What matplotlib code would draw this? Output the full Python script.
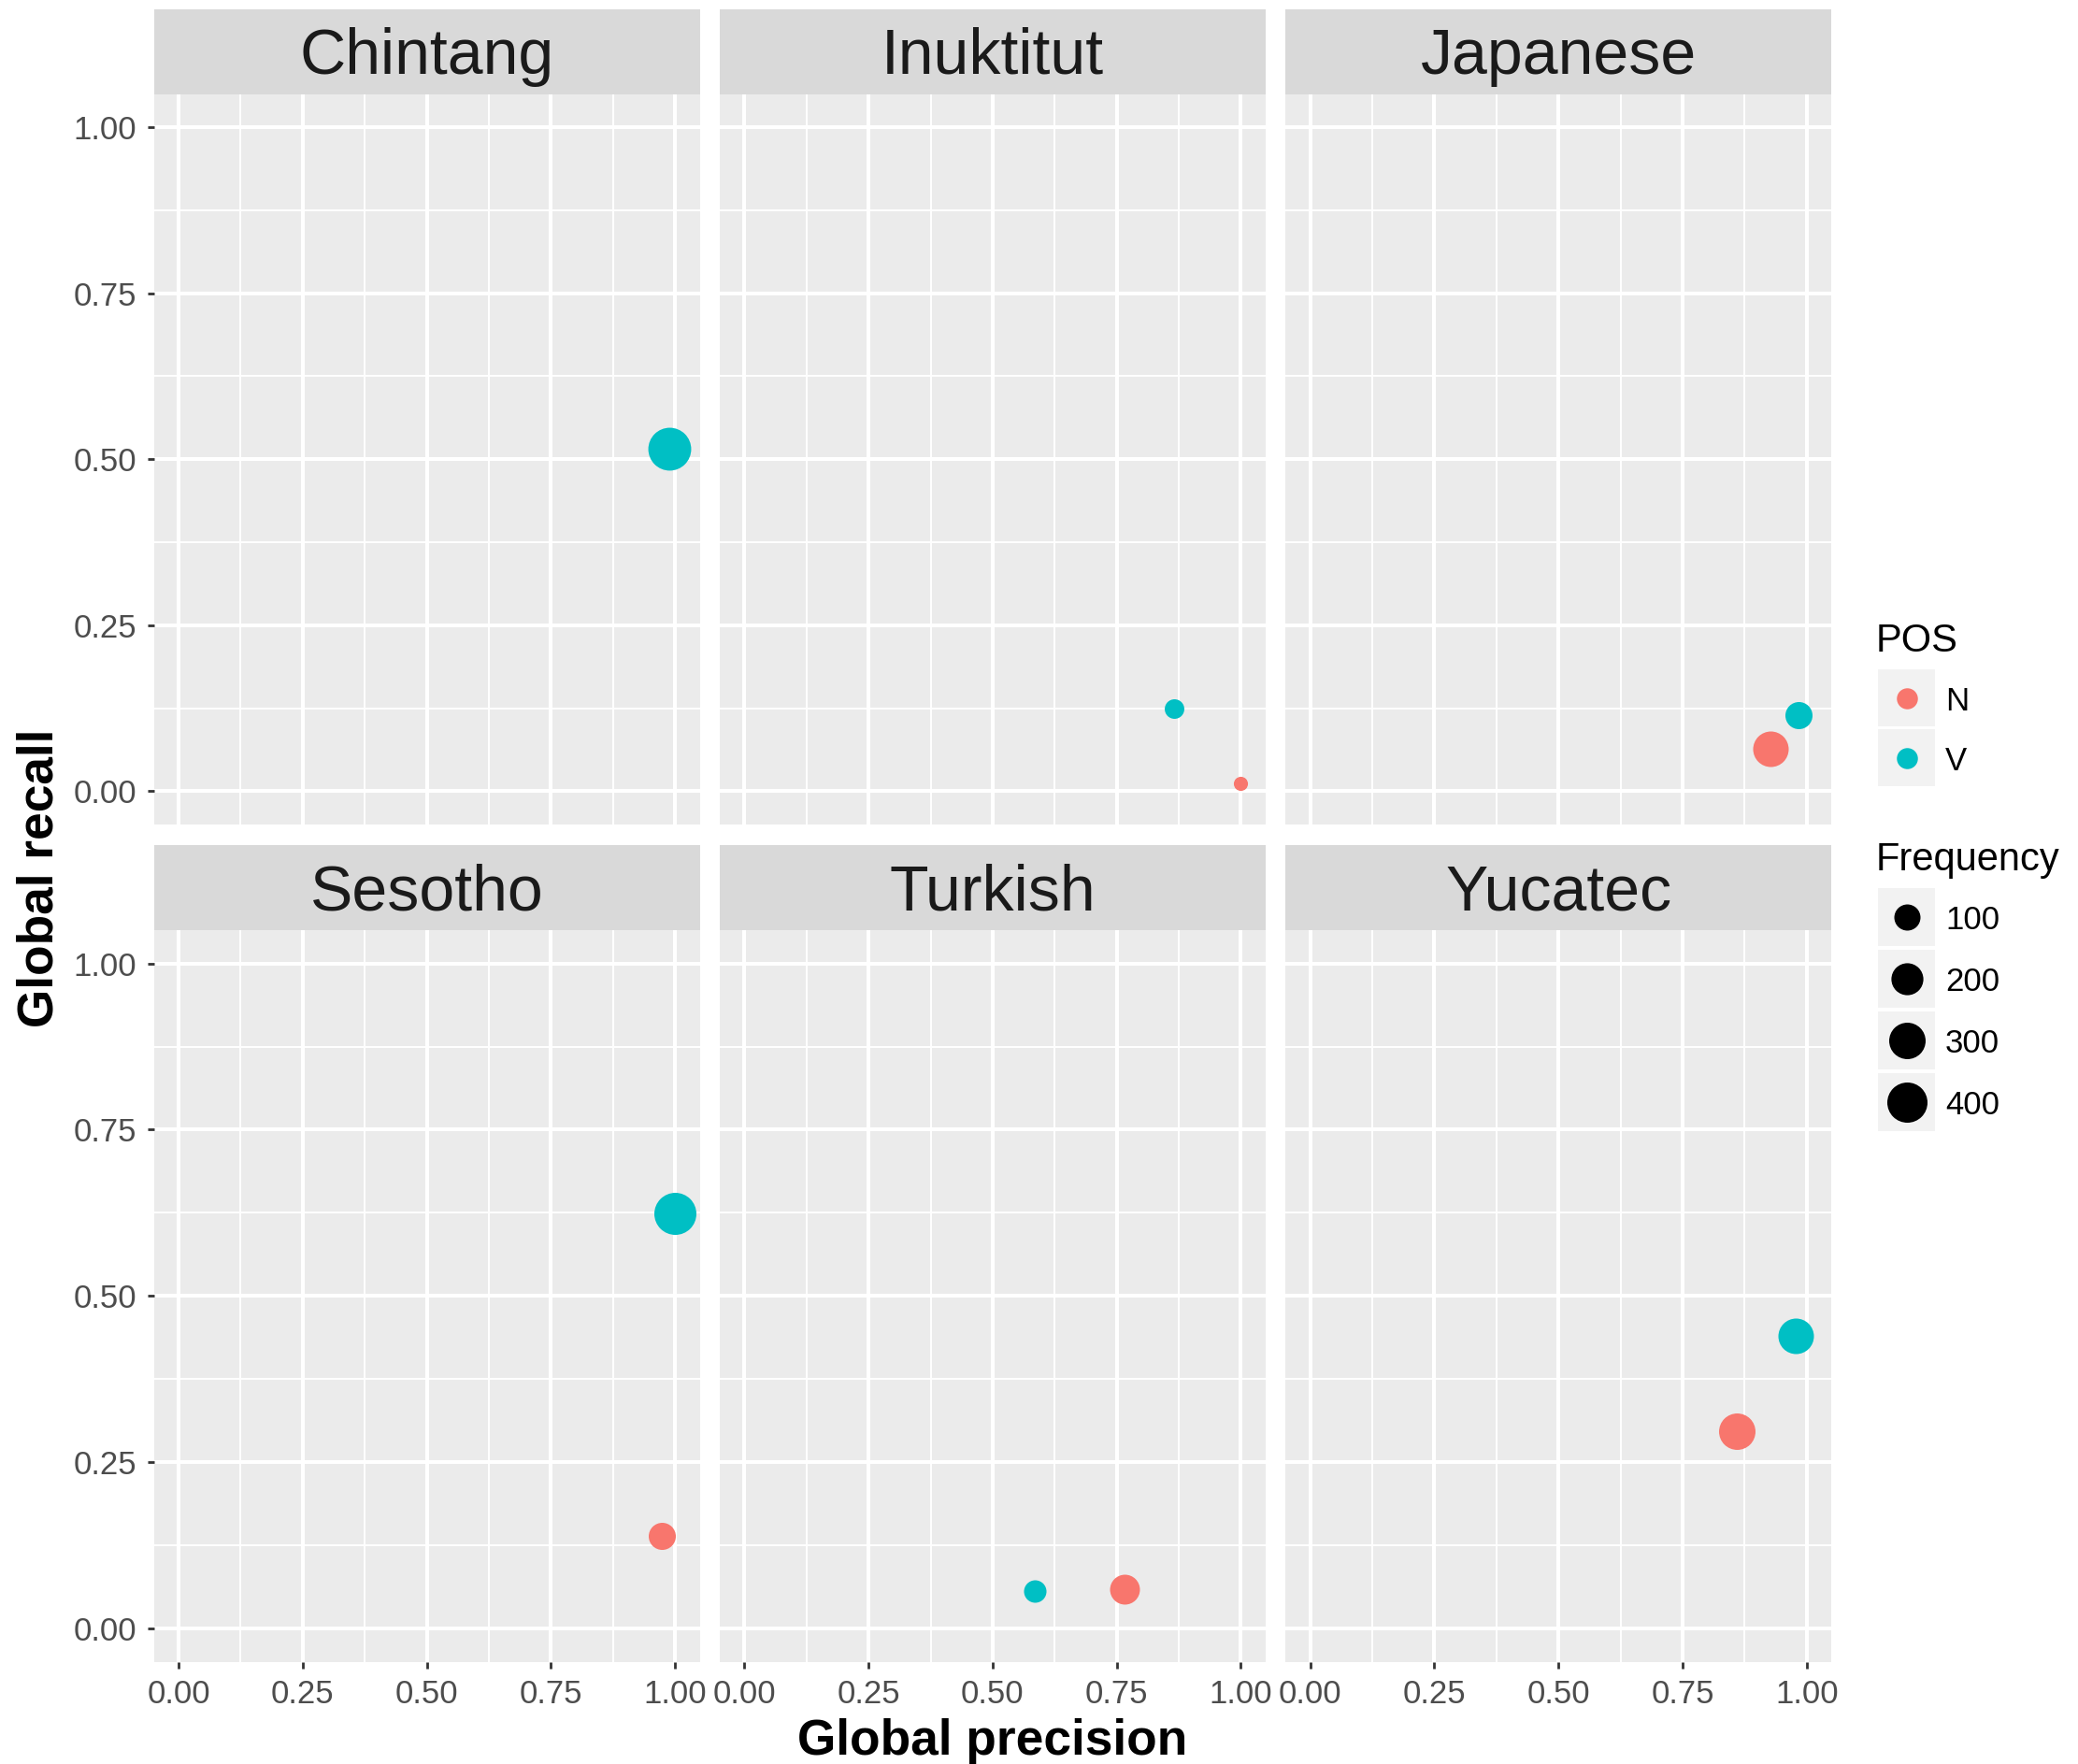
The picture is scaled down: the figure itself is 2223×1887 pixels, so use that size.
import matplotlib
matplotlib.use("Agg")
import matplotlib.pyplot as plt
import numpy as np

plt.rcParams['font.family'] = ['Liberation Sans', 'DejaVu Sans']

# data
languages = ["Chintang", "Inuktitut", "Japanese", "Sesotho", "Turkish", "Yucatec"]
pos_levels = ["N", "V"]
pos_colors = {"N": "#F8766D", "V": "#00BFC4"}

lang = ["Chintang", "Inuktitut", "Inuktitut", "Japanese", "Japanese",
        "Sesotho", "Sesotho", "Turkish", "Turkish", "Yucatec", "Yucatec"]
pos = ["V", "N", "V", "N", "V", "N", "V", "N", "V", "N", "V"]
precision = [0.989, 1.000, 0.865, 0.928, 0.983, 0.974, 1.000, 0.766, 0.584, 0.859, 0.977]
recall = [0.515, 0.012, 0.125, 0.064, 0.114, 0.139, 0.624, 0.060, 0.056, 0.297, 0.440]
frequency = [480, 2, 28, 278, 114, 114, 455, 160, 54, 300, 278]

freq_breaks = [100, 200, 300, 400]
ticks = [0.0, 0.25, 0.5, 0.75, 1.0]
tick_labels = ["0.00", "0.25", "0.50", "0.75", "1.00"]

W, H, DPI = 2223, 1887, 200
fig = plt.figure(figsize=(W / DPI, H / DPI), dpi=DPI)


def px_rect(x0, y0, x1, y1):
    # pixel box (top-left origin) -> figure fraction
    return [x0 / W, 1 - y1 / H, (x1 - x0) / W, (y1 - y0) / H]


def dot_size(f):
    # marker diameter in px, area-like scaling
    d = 13 + 1.5 * np.sqrt(f)
    return (d * 72 / DPI) ** 2


cols = [(164.5, 748.5), (769.8, 1354.0), (1375.0, 1959.3)]
rows = [(10.0, 100.5, 881.8), (904.5, 995.0, 1777.8)]

for i, name in enumerate(languages):
    r, c = divmod(i, 3)
    x0, x1 = cols[c]
    st, sb, pb = rows[r]
    # strip
    sax = fig.add_axes(px_rect(x0, st, x1, sb))
    sax.set_facecolor("#D9D9D9")
    sax.set_xticks([])
    sax.set_yticks([])
    for s in sax.spines.values():
        s.set_visible(False)
    sax.text(0.5, 0.44, name, ha="center", va="center", fontsize=24.5,
             color="#1A1A1A", transform=sax.transAxes)

    ax = fig.add_axes(px_rect(x0, sb, x1, pb))
    ax.set_facecolor("#EBEBEB")
    ax.set_xlim(-0.05, 1.05)
    ax.set_ylim(-0.05, 1.05)
    for s in ax.spines.values():
        s.set_visible(False)
    for m in [0.125, 0.375, 0.625, 0.875]:
        ax.axvline(m, color="white", lw=0.7, zorder=0)
        ax.axhline(m, color="white", lw=0.7, zorder=0)
    for t in ticks:
        ax.axvline(t, color="white", lw=1.45, zorder=0)
        ax.axhline(t, color="white", lw=1.45, zorder=0)
    ax.set_axisbelow(True)

    ax.set_xticks(ticks)
    ax.set_yticks(ticks)
    ax.tick_params(length=2.5, width=1.0, color="#333333", labelcolor="#4D4D4D",
                   labelsize=12.5, pad=4)
    if r == 1:
        ax.set_xticklabels(tick_labels)
    else:
        ax.tick_params(axis="x", length=0, labelbottom=False)
    if c == 0:
        ax.set_yticklabels(tick_labels)
    else:
        ax.tick_params(axis="y", length=0, labelleft=False)

    for p in pos_levels:
        idx = [k for k in range(len(lang)) if lang[k] == name and pos[k] == p]
        if not idx:
            continue
        ax.scatter([precision[k] for k in idx], [recall[k] for k in idx],
                   s=[dot_size(frequency[k]) for k in idx],
                   color=pos_colors[p], linewidths=0, zorder=3)

fig.text(1062 / W, 1 - 1863 / H, "Global precision", ha="center", va="center",
         fontsize=19.2, fontweight="bold")
fig.text(43 / W, 1 - 939 / H, "Global recall", ha="center", va="center",
         rotation=90, fontsize=19.2, fontweight="bold")

# legends drawn in pixel space
lax = fig.add_axes([0, 0, 1, 1])
lax.set_xlim(0, W)
lax.set_ylim(H, 0)
lax.axis("off")
lax.patch.set_alpha(0)

lax.text(2007, 686, "POS", fontsize=15, ha="left", va="center")
for j, p in enumerate(pos_levels):
    top = 716 + j * 64
    lax.add_patch(plt.Rectangle((2009, top), 61, 61, color="#F2F2F2", lw=0))
    lax.scatter([2039.5], [top + 30.5], s=dot_size(40), color=pos_colors[p], linewidths=0)
    lax.text(2081, top + 34, p, fontsize=12.5, ha="left", va="center")

lax.text(2007, 920, "Frequency", fontsize=15, ha="left", va="center")
for j, f in enumerate(freq_breaks):
    top = 950 + j * 66
    lax.add_patch(plt.Rectangle((2009, top), 61, 62, color="#F2F2F2", lw=0))
    lax.scatter([2039.5], [top + 31], s=dot_size(f), color="black", linewidths=0)
    lax.text(2081, top + 34, str(f), fontsize=12.5, ha="left", va="center")

fig.savefig("out.png", dpi=DPI)
